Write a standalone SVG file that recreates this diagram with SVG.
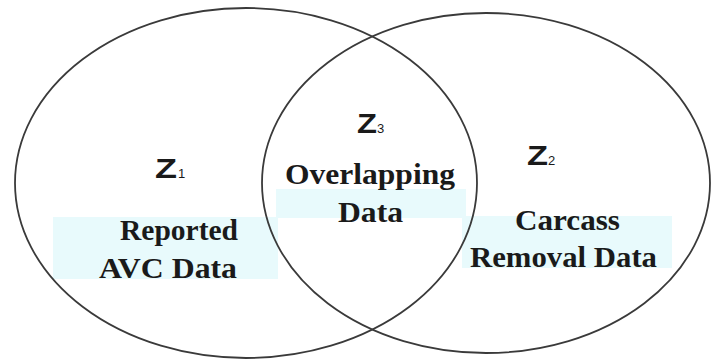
<svg xmlns="http://www.w3.org/2000/svg" width="711" height="362" viewBox="0 0 711 362">
<style>
.band{fill:#e8fafc;stroke:none}
.set{fill:none;stroke:#3a3a3a;stroke-width:1.8}
.lbl{font-family:"Liberation Serif","Times New Roman",serif;font-weight:bold;font-size:30px;fill:#1a1a1a}
.z{font-family:"Liberation Sans",Arial,sans-serif;font-weight:bold;font-size:28px;fill:#1a1a1a}
.sub{font-family:"Liberation Sans",Arial,sans-serif;font-size:13px;fill:#1a1a1a}
</style>
<rect width="711" height="362" fill="#fff"/>
<g id="bands">
<rect class="band" x="53" y="217" width="225" height="62"/>
<rect class="band" x="276" y="189" width="190" height="29"/>
<rect class="band" x="462" y="216" width="210" height="52"/>
</g>
<g id="z1">
<ellipse class="set" cx="246" cy="183" rx="231" ry="175"/>
<text class="z" x="155" y="178" textLength="22" lengthAdjust="spacingAndGlyphs">Z</text><text class="sub" x="178" y="178">1</text>
<text class="lbl" x="120" y="240" textLength="118" lengthAdjust="spacingAndGlyphs">Reported</text>
<text class="lbl" x="99" y="278" textLength="138" lengthAdjust="spacingAndGlyphs">AVC Data</text>
</g>
<g id="z2">
<ellipse class="set" cx="486" cy="183" rx="224" ry="170"/>
<text class="z" x="527" y="165" textLength="21" lengthAdjust="spacingAndGlyphs">Z</text><text class="sub" x="548" y="165">2</text>
<text class="lbl" x="515" y="230" textLength="105" lengthAdjust="spacingAndGlyphs">Carcass</text>
<text class="lbl" x="470" y="267" textLength="187" lengthAdjust="spacingAndGlyphs">Removal Data</text>
</g>
<g id="z3">
<text class="z" x="357" y="133" textLength="20" lengthAdjust="spacingAndGlyphs">Z</text><text class="sub" x="377" y="133">3</text>
<text class="lbl" x="285" y="184" textLength="170" lengthAdjust="spacingAndGlyphs">Overlapping</text>
<text class="lbl" x="338" y="222" textLength="65" lengthAdjust="spacingAndGlyphs">Data</text>
</g>
</svg>
